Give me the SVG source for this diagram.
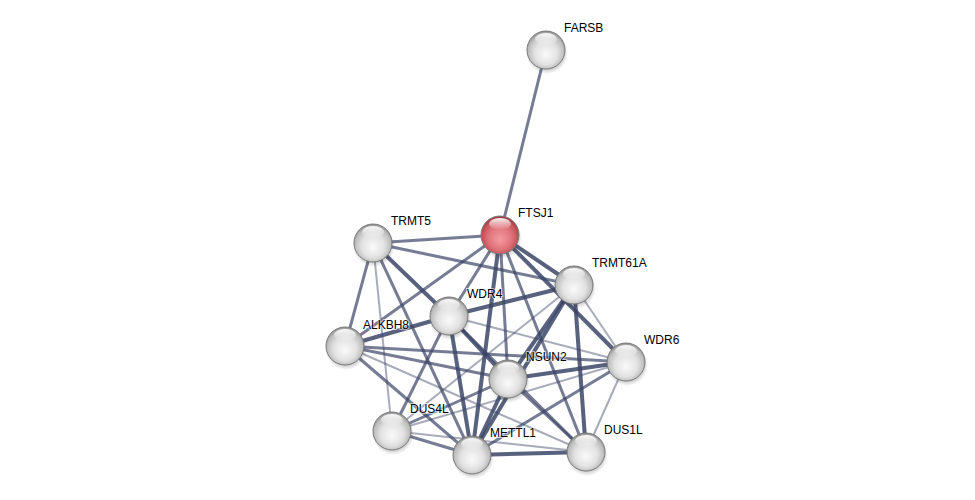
<svg xmlns="http://www.w3.org/2000/svg" width="975" height="500" viewBox="0 0 975 500">
<style>
.e{stroke:#3b4566;fill:none;stroke-linecap:butt}
.w3{stroke-width:4;stroke-opacity:0.85}
.w2{stroke-width:3;stroke-opacity:0.7}
.w1{stroke-width:2;stroke-opacity:0.45}
.lbl{font-family:"Liberation Sans",Arial,sans-serif;font-size:12px;fill:#000;paint-order:stroke;stroke:#ffffff;stroke-opacity:0.6;stroke-width:2px}
.n{stroke:#7a7a7a;stroke-width:1}
</style>
<defs>
<radialGradient id="gw" cx="50%" cy="55%" r="55%" fx="50%" fy="62%">
<stop offset="0" stop-color="#fafafa"/>
<stop offset="0.55" stop-color="#e2e2e2"/>
<stop offset="0.85" stop-color="#bdbdbd"/>
<stop offset="1" stop-color="#8c8c8c"/>
</radialGradient>
<radialGradient id="gr" cx="50%" cy="55%" r="55%" fx="50%" fy="62%">
<stop offset="0" stop-color="#f59aa0"/>
<stop offset="0.55" stop-color="#e0747b"/>
<stop offset="0.85" stop-color="#c65058"/>
<stop offset="1" stop-color="#90343c"/>
</radialGradient>
<linearGradient id="gh" x1="0" y1="0" x2="0" y2="1">
<stop offset="0" stop-color="#ffffff" stop-opacity="0.95"/>
<stop offset="1" stop-color="#ffffff" stop-opacity="0"/>
</linearGradient>
<radialGradient id="gs" cx="50%" cy="50%" r="50%">
<stop offset="0.7" stop-color="#000" stop-opacity="0.25"/>
<stop offset="1" stop-color="#000" stop-opacity="0"/>
</radialGradient>
<g id="hl"><ellipse cx="0" cy="-11" rx="11" ry="6" fill="url(#gh)"/></g>
<g id="sh"><circle cx="1" cy="3" r="21" fill="url(#gs)"/></g>
</defs>
<rect width="975" height="500" fill="#ffffff"/>
<g id="edges">
<line class="e w2" x1="546" y1="50" x2="500" y2="235"/>
<line class="e w2" x1="500" y1="235" x2="373" y2="243"/>
<line class="e w3" x1="500" y1="235" x2="574" y2="285"/>
<line class="e w2" x1="500" y1="235" x2="449" y2="316"/>
<line class="e w2" x1="500" y1="235" x2="345" y2="346"/>
<line class="e w3" x1="500" y1="235" x2="472" y2="455"/>
<line class="e w2" x1="500" y1="235" x2="508" y2="379"/>
<line class="e w2" x1="500" y1="235" x2="586" y2="452"/>
<line class="e w3" x1="500" y1="235" x2="626" y2="362"/>
<line class="e w2" x1="373" y1="243" x2="574" y2="285"/>
<line class="e w3" x1="373" y1="243" x2="449" y2="316"/>
<line class="e w2" x1="373" y1="243" x2="345" y2="346"/>
<line class="e w1" x1="373" y1="243" x2="392" y2="431"/>
<line class="e w2" x1="373" y1="243" x2="472" y2="455"/>
<line class="e w3" x1="574" y1="285" x2="449" y2="316"/>
<line class="e w3" x1="574" y1="285" x2="508" y2="379"/>
<line class="e w3" x1="574" y1="285" x2="472" y2="455"/>
<line class="e w3" x1="574" y1="285" x2="586" y2="452"/>
<line class="e w1" x1="574" y1="285" x2="626" y2="362"/>
<line class="e w1" x1="574" y1="285" x2="392" y2="431"/>
<line class="e w3" x1="345" y1="346" x2="449" y2="316"/>
<line class="e w2" x1="345" y1="346" x2="508" y2="379"/>
<line class="e w2" x1="345" y1="346" x2="626" y2="362"/>
<line class="e w2" x1="345" y1="346" x2="472" y2="455"/>
<line class="e w1" x1="345" y1="346" x2="586" y2="452"/>
<line class="e w3" x1="449" y1="316" x2="508" y2="379"/>
<line class="e w3" x1="449" y1="316" x2="472" y2="455"/>
<line class="e w2" x1="449" y1="316" x2="392" y2="431"/>
<line class="e w2" x1="449" y1="316" x2="586" y2="452"/>
<line class="e w1" x1="449" y1="316" x2="626" y2="362"/>
<line class="e w3" x1="508" y1="379" x2="626" y2="362"/>
<line class="e w3" x1="508" y1="379" x2="472" y2="455"/>
<line class="e w2" x1="508" y1="379" x2="586" y2="452"/>
<line class="e w2" x1="508" y1="379" x2="392" y2="431"/>
<line class="e w2" x1="626" y1="362" x2="472" y2="455"/>
<line class="e w1" x1="626" y1="362" x2="392" y2="431"/>
<line class="e w1" x1="626" y1="362" x2="586" y2="452"/>
<line class="e w2" x1="392" y1="431" x2="472" y2="455"/>
<line class="e w1" x1="392" y1="431" x2="586" y2="452"/>
<line class="e w3" x1="472" y1="455" x2="586" y2="452"/>
</g>
<g id="FARSB"><use href="#sh" x="546" y="50"/><circle class="n" cx="546" cy="50" r="19" fill="url(#gw)"/><use href="#hl" x="546" y="50"/><text class="lbl" x="564" y="32">FARSB</text></g>
<g id="FTSJ1"><use href="#sh" x="500" y="235"/><circle class="n" cx="500" cy="235" r="19" fill="url(#gr)" stroke="#8a4046"/><use href="#hl" x="500" y="235"/><text class="lbl" x="518" y="217">FTSJ1</text></g>
<g id="TRMT5"><use href="#sh" x="373" y="243"/><circle class="n" cx="373" cy="243" r="19" fill="url(#gw)"/><use href="#hl" x="373" y="243"/><text class="lbl" x="391" y="225">TRMT5</text></g>
<g id="TRMT61A"><use href="#sh" x="574" y="285"/><circle class="n" cx="574" cy="285" r="19" fill="url(#gw)"/><use href="#hl" x="574" y="285"/><text class="lbl" x="592" y="267">TRMT61A</text></g>
<g id="WDR4"><use href="#sh" x="449" y="316"/><circle class="n" cx="449" cy="316" r="19" fill="url(#gw)"/><use href="#hl" x="449" y="316"/><text class="lbl" x="467" y="298">WDR4</text></g>
<g id="ALKBH8"><use href="#sh" x="345" y="346"/><circle class="n" cx="345" cy="346" r="19" fill="url(#gw)"/><use href="#hl" x="345" y="346"/><text class="lbl" x="363" y="329">ALKBH8</text></g>
<g id="WDR6"><use href="#sh" x="626" y="362"/><circle class="n" cx="626" cy="362" r="19" fill="url(#gw)"/><use href="#hl" x="626" y="362"/><text class="lbl" x="644" y="344">WDR6</text></g>
<g id="NSUN2"><use href="#sh" x="508" y="379"/><circle class="n" cx="508" cy="379" r="19" fill="url(#gw)"/><use href="#hl" x="508" y="379"/><text class="lbl" x="526" y="361">NSUN2</text></g>
<g id="DUS4L"><use href="#sh" x="392" y="431"/><circle class="n" cx="392" cy="431" r="19" fill="url(#gw)"/><use href="#hl" x="392" y="431"/><text class="lbl" x="410" y="413">DUS4L</text></g>
<g id="METTL1"><use href="#sh" x="472" y="455"/><circle class="n" cx="472" cy="455" r="19" fill="url(#gw)"/><use href="#hl" x="472" y="455"/><text class="lbl" x="490" y="437">METTL1</text></g>
<g id="DUS1L"><use href="#sh" x="586" y="452"/><circle class="n" cx="586" cy="452" r="19" fill="url(#gw)"/><use href="#hl" x="586" y="452"/><text class="lbl" x="604" y="434">DUS1L</text></g>
</svg>
